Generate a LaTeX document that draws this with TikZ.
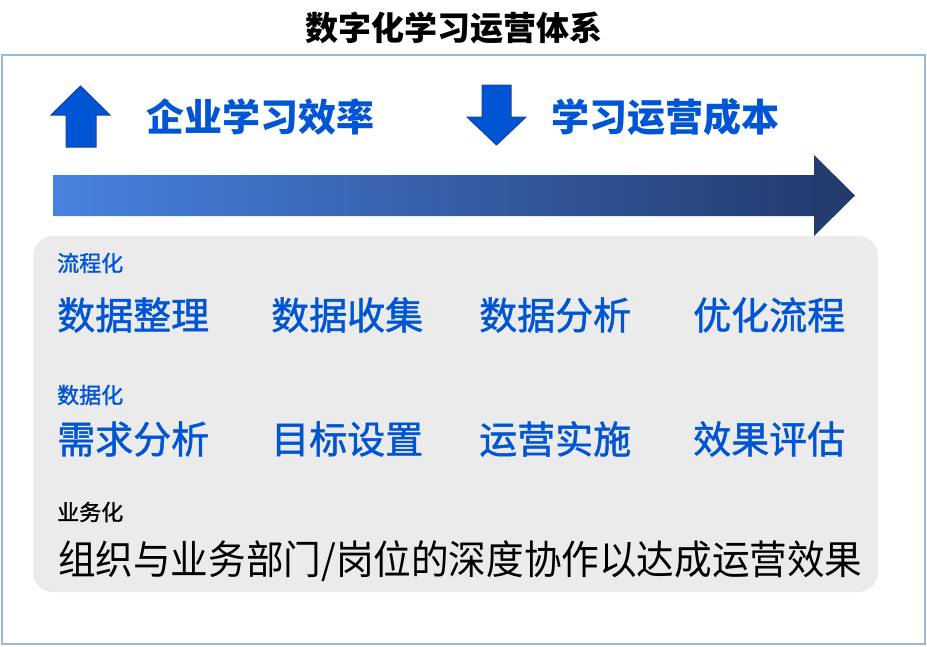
\documentclass[tikz,border=0pt]{standalone}
\usepackage{fontspec}
\setmainfont{Noto Sans CJK SC}
\newfontfamily\midfont{Noto Sans CJK SC}[FakeBold=1.3]
\usetikzlibrary{positioning}
\definecolor{ablue}{RGB}{0,85,212}
\definecolor{aedge}{RGB}{30,64,160}
\definecolor{frameblue}{RGB}{150,185,220}
\definecolor{panelgray}{RGB}{235,235,235}
\definecolor{flowleft}{RGB}{72,130,225}
\definecolor{flowright}{RGB}{34,57,107}

\begin{document}
\begin{tikzpicture}[x=1pt, y=-1pt,
    headline/.style={inner sep=0pt, font=\fontsize{33}{33}\selectfont\bfseries},
    goal/.style={text=ablue, anchor=west, inner sep=0pt, font=\fontsize{38}{38}\selectfont\bfseries},
    tag/.style={text=ablue, anchor=west, inner sep=0pt, font=\fontsize{22}{22}\selectfont\midfont},
    item/.style={text=ablue, anchor=west, inner sep=0pt, font=\fontsize{38}{38}\selectfont\midfont},
    bigarrow/.style={fill=ablue, draw=aedge, line width=1pt, line join=miter}]
    \useasboundingbox (0,0) rectangle (927,646);

    % frame and panel
    \draw[frameblue, line width=2pt] (2,55) rectangle (925,644);
    \fill[panelgray, rounded corners=20pt] (33,236) rectangle (878,592);
    \node[headline] (title) at (454,28) {数字化学习运营体系};

    % up / down arrows
    \draw[bigarrow] (66,147) -- (66,115) -- (51,115) -- (80.5,86) -- (110,115) -- (96,115) -- (96,147) -- cycle;
    \node[goal] (efficiency) at (146,117) {企业学习效率};
    \draw[bigarrow] (482,85) -- (511,85) -- (511,117) -- (526,117) -- (496.5,145) -- (467,117) -- (482,117) -- cycle;
    \node[goal] (cost) at (551,117) {学习运营成本};

    % long arrow
    \shade[left color=flowleft, right color=flowright]
        (53,175) -- (814,175) -- (814,155) -- (855,195.5) -- (814,236) -- (814,216) -- (53,216) -- cycle;

    % rows
    \node[tag] (flow) at (57,263) {流程化};
    \node[item] (r1c1) at (57,315) {数据整理};
    \node[item] (r1c2) at (271,315) {数据收集};
    \node[item] (r1c3) at (479,315) {数据分析};
    \node[item] (r1c4) at (693,315) {优化流程};

    \node[tag] (data) at (57,395) {数据化};
    \node[item] (r2c1) at (57,439) {需求分析};
    \node[item] (r2c2) at (271,439) {目标设置};
    \node[item] (r2c3) at (479,439) {运营实施};
    \node[item] (r2c4) at (693,439) {效果评估};

    \node[tag, text=black] (business) at (57,512) {业务化};
    \node[anchor=west, inner sep=0pt, xscale=0.94, transform shape, font=\fontsize{40}{40}\selectfont] (goal) at (58,561) {组织与业务部门/岗位的深度协作以达成运营效果};
\end{tikzpicture}
\end{document}
